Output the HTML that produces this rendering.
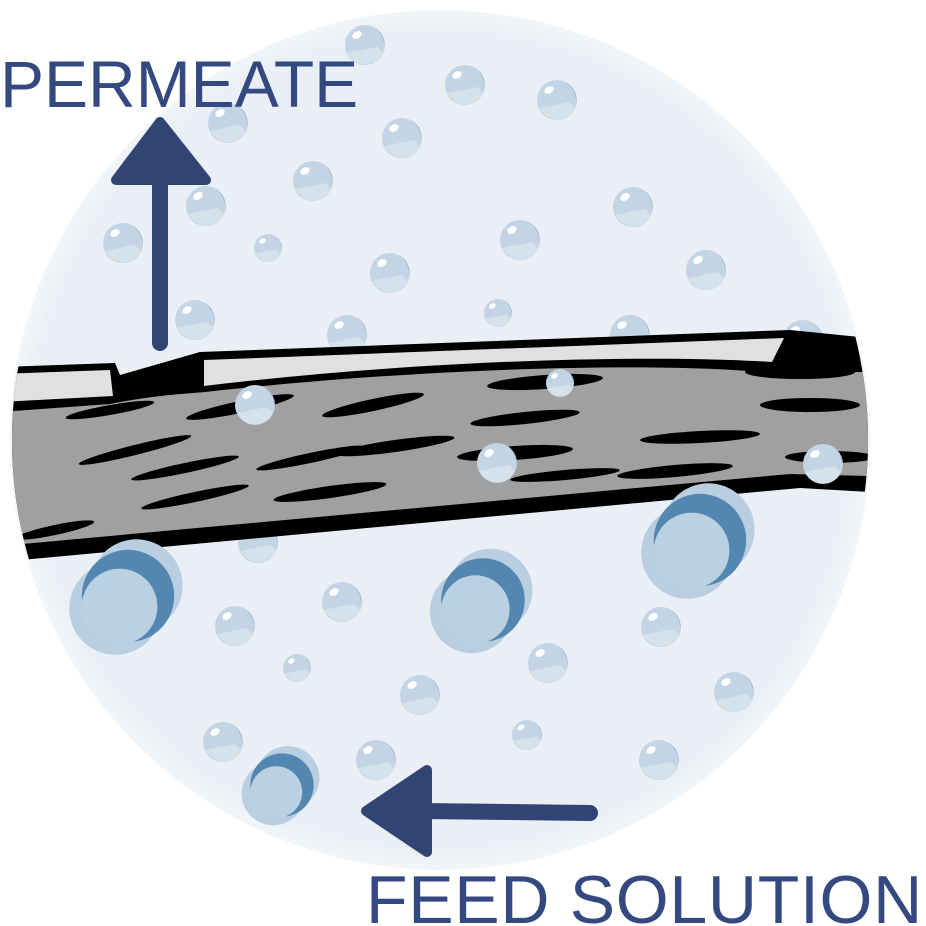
<!DOCTYPE html>
<html><head><style>
html,body{margin:0;padding:0;background:#fff;width:926px;height:926px;overflow:hidden}
svg{display:block}
text{font-family:"Liberation Sans",sans-serif;fill:#34497f}
</style></head><body>
<svg width="926" height="926" viewBox="0 0 926 926" xmlns="http://www.w3.org/2000/svg">
<defs>
<clipPath id="c"><circle cx="440" cy="440" r="428"/></clipPath>
<radialGradient id="bg" cx="0.5" cy="0.5" r="0.5">
<stop offset="0.95" stop-color="#e9eff5"/><stop offset="1" stop-color="#f2f6f9"/>
</radialGradient>
<g id="b">
<circle r="20" fill="#c3d5e4"/>
<path d="M-18,8 A20,20 0 0 0 18,8 L12,2 Z" fill="#d5e2ec"/>
<path d="M-19,6 A20,20 0 0 0 -6,19 A22,22 0 0 1 -19,6Z" fill="#7f9db8"/>
<path d="M10,-17 A20,20 0 0 1 19,4 A22,22 0 0 0 10,-17Z" fill="#7f9db8"/>
<ellipse cx="-8" cy="-10" rx="5" ry="3.5" fill="#fff" transform="rotate(-30 -8 -10)"/>
</g>
<g id="m">
<circle cx="8" cy="-10" r="44" fill="#b9cfe1"/>
<circle cx="-12" cy="12" r="44" fill="#b9cfe1"/>
<circle cx="0" cy="0" r="44" fill="#5387b2"/>
<circle cx="-8" cy="10" r="36" fill="#bbd0e1"/>
</g>
</defs>
<circle cx="440" cy="440" r="430" fill="url(#bg)"/>
<g clip-path="url(#c)">
<use href="#b" x="365" y="45"/><use href="#b" x="465" y="85"/><use href="#b" x="557" y="100"/>
<use href="#b" x="228" y="123"/><use href="#b" x="402" y="138"/><use href="#b" x="313" y="181"/>
<use href="#b" x="206" y="206"/><use href="#b" x="633" y="207"/><use href="#b" x="123" y="243"/>
<use href="#b" x="520" y="240"/><use href="#b" x="268" y="248" transform="translate(268 248) scale(0.7) translate(-268 -248)"/>
<use href="#b" x="390" y="273"/><use href="#b" x="706" y="270"/><use href="#b" x="195" y="320"/>
<use href="#b" x="498" y="313" transform="translate(498 313) scale(0.7) translate(-498 -313)"/>
<use href="#b" x="347" y="335"/><use href="#b" x="630" y="335"/><use href="#b" x="803" y="340"/>
<use href="#b" x="258" y="543"/><use href="#b" x="342" y="602"/><use href="#b" x="235" y="626"/>
<use href="#b" x="661" y="627"/><use href="#b" x="548" y="663"/><use href="#b" x="297" y="668" transform="translate(297 668) scale(0.7) translate(-297 -668)"/>
<use href="#b" x="420" y="695"/><use href="#b" x="734" y="692"/><use href="#b" x="223" y="742"/>
<use href="#b" x="527" y="735" transform="translate(527 735) scale(0.75) translate(-527 -735)"/>
<use href="#b" x="376" y="760"/><use href="#b" x="659" y="760"/>
<path d="M0,367 L115,363 L120,375 L200,352 L790,330 L870,338 L870,492 L800,488 L0,562 Z" fill="#000"/>
<path d="M0,374 L110,370 L113,396 L0,402 Z" fill="#e0e0e0"/>
<path d="M204,360 L784,338 L772,362 C650,354 420,360 204,386 Z" fill="#e0e0e0"/>
<path d="M0,412 L110,404 C150,396 180,394 205,392 C420,368 650,362 760,372 L870,372 L870,476 L790,474 L0,546 Z" fill="#a0a0a0"/>
<g fill="#000">
<ellipse cx="110" cy="410" rx="45" ry="5" transform="rotate(-10 110 410)"/>
<ellipse cx="240" cy="407" rx="55" ry="6" transform="rotate(-12 240 407)"/>
<ellipse cx="373" cy="405" rx="52" ry="6" transform="rotate(-12 373 405)"/>
<ellipse cx="545" cy="382" rx="58" ry="7" transform="rotate(-4 545 382)"/>
<ellipse cx="525" cy="418" rx="55" ry="6" transform="rotate(-6 525 418)"/>
<ellipse cx="800" cy="372" rx="55" ry="7"/>
<ellipse cx="810" cy="405" rx="50" ry="7"/>
<ellipse cx="135" cy="450" rx="58" ry="5" transform="rotate(-14 135 450)"/>
<ellipse cx="185" cy="468" rx="55" ry="5" transform="rotate(-12 185 468)"/>
<ellipse cx="310" cy="458" rx="55" ry="5" transform="rotate(-12 310 458)"/>
<ellipse cx="515" cy="453" rx="58" ry="7" transform="rotate(-4 515 453)"/>
<ellipse cx="395" cy="446" rx="60" ry="6" transform="rotate(-8 395 446)"/>
<ellipse cx="700" cy="437" rx="60" ry="6" transform="rotate(-3 700 437)"/>
<ellipse cx="195" cy="497" rx="55" ry="5" transform="rotate(-12 195 497)"/>
<ellipse cx="330" cy="492" rx="57" ry="6" transform="rotate(-8 330 492)"/>
<ellipse cx="565" cy="475" rx="55" ry="5" transform="rotate(-5 565 475)"/>
<ellipse cx="675" cy="471" rx="58" ry="6" transform="rotate(-5 675 471)"/>
<ellipse cx="830" cy="457" rx="45" ry="6"/>
<ellipse cx="55" cy="530" rx="40" ry="5" transform="rotate(-12 55 530)"/>
</g>
<use href="#b" x="255" y="405"/><use href="#b" x="560" y="383" transform="translate(560 383) scale(0.7) translate(-560 -383)"/>
<use href="#b" x="497" y="463"/><use href="#b" x="823" y="464"/>
<use href="#m" transform="translate(128 596) scale(1.05)"/>
<use href="#m" transform="translate(483 600) scale(0.95)"/>
<use href="#m" transform="translate(700 540) scale(1.05)"/>
<use href="#m" transform="translate(282 785) scale(0.72)"/>
</g>
<line x1="160" y1="180" x2="160" y2="343" stroke="#314575" stroke-width="16" stroke-linecap="round"/>
<path d="M160,122 L206,180 L116,180 Z" fill="#314575" stroke="#314575" stroke-width="10" stroke-linejoin="round"/>
<line x1="420" y1="811" x2="590" y2="813" stroke="#314575" stroke-width="16" stroke-linecap="round"/>
<path d="M366,811 L427,770 L427,852 Z" fill="#314575" stroke="#314575" stroke-width="10" stroke-linejoin="round"/>
<text x="0" y="107" font-size="66">PERMEATE</text>
<text x="366" y="923" font-size="68" letter-spacing="0.7">FEED SOLUTION</text>
</svg>
</body></html>
